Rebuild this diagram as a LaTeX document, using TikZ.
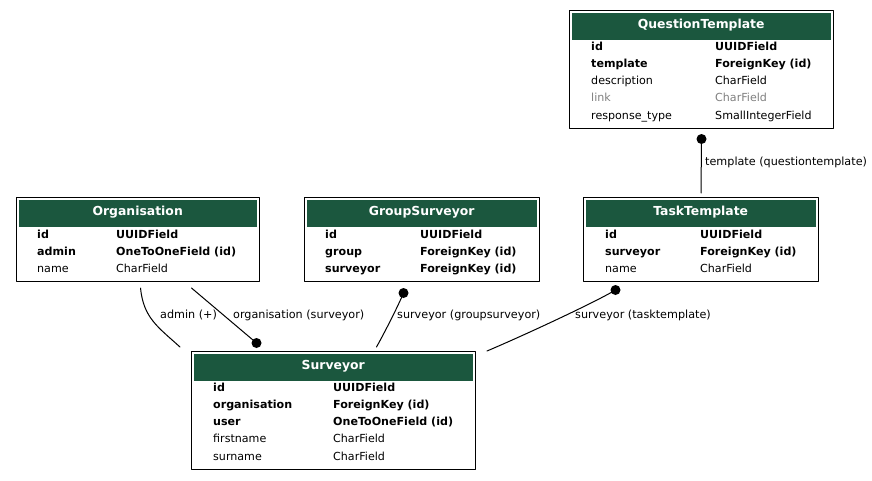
\documentclass[tikz,border=0pt]{standalone}
\usepackage{fontspec}
\setmainfont{DejaVu Sans}
\usetikzlibrary{calc}
\definecolor{headgreen}{RGB}{27,87,62}
\definecolor{dimgrey}{RGB}{128,128,128}
\tikzset{
  modelbox/.style ={draw, line width=1pt, anchor=north west, inner sep=0pt},
  modelhead/.style ={fill=headgreen, anchor=north west, inner sep=0pt, text=white,
    font=\fontsize{12.4pt}{14pt}\selectfont\bfseries, minimum height=27pt,
    text height=9pt, text depth=4.5pt},
  keyfield/.style ={anchor=base west, inner sep=0pt, font=\fontsize{11.1pt}{13pt}\selectfont\bfseries},
  plainfield/.style ={anchor=base west, inner sep=0pt, font=\fontsize{11.1pt}{13pt}\selectfont},
  greyfield/.style ={plainfield, text=dimgrey},
  rel/.style ={draw, line width=1pt},
  fkdot/.style ={circle, fill=black, inner sep=0pt, minimum size=10pt},
  edgelabel/.style ={anchor=base west, inner sep=0pt, font=\fontsize{11.2pt}{13pt}\selectfont}
}
\begin{document}
\begin{tikzpicture}[line cap=round,line join=round,x=1pt,y=-1pt]
\useasboundingbox (0,0) rectangle (872,480);

% QuestionTemplate
\node[modelbox, minimum width=264pt, minimum height=118pt] (qt) at (569,10) {};
\node[modelhead, minimum width=259pt] (qt-head) at (571.5,12.5) {QuestionTemplate};
\node[keyfield] (qt-id) at (591,50) {id};
\node[keyfield] (qt-id-t) at (715,50) {UUIDField};
\node[keyfield] (qt-template) at (591,67.3) {template};
\node[keyfield] (qt-template-t) at (715,67.3) {ForeignKey (id)};
\node[plainfield] (qt-desc) at (591,84.6) {description};
\node[plainfield] (qt-desc-t) at (715,84.6) {CharField};
\node[greyfield] (qt-link) at (591,101.9) {link};
\node[greyfield] (qt-link-t) at (715,101.9) {CharField};
\node[plainfield] (qt-resp) at (591,119.2) {response\_type};
\node[plainfield] (qt-resp-t) at (715,119.2) {SmallIntegerField};

% Organisation
\node[modelbox, minimum width=243pt, minimum height=84pt] (org) at (16,197) {};
\node[modelhead, minimum width=238pt] (org-head) at (18.5,199.5) {Organisation};
\node[keyfield] (org-id) at (37,238) {id};
\node[keyfield] (org-id-t) at (116,238) {UUIDField};
\node[keyfield] (org-admin) at (37,255.3) {admin};
\node[keyfield] (org-admin-t) at (116,255.3) {OneToOneField (id)};
\node[plainfield] (org-name) at (37,272.6) {name};
\node[plainfield] (org-name-t) at (116,272.6) {CharField};

% GroupSurveyor
\node[modelbox, minimum width=235pt, minimum height=84pt] (gs) at (304,197) {};
\node[modelhead, minimum width=230pt] (gs-head) at (306.5,199.5) {GroupSurveyor};
\node[keyfield] (gs-id) at (325,238) {id};
\node[keyfield] (gs-id-t) at (420,238) {UUIDField};
\node[keyfield] (gs-group) at (325,255.3) {group};
\node[keyfield] (gs-group-t) at (420,255.3) {ForeignKey (id)};
\node[keyfield] (gs-surveyor) at (325,272.6) {surveyor};
\node[keyfield] (gs-surveyor-t) at (420,272.6) {ForeignKey (id)};

% TaskTemplate
\node[modelbox, minimum width=235pt, minimum height=84pt] (tt) at (583,197) {};
\node[modelhead, minimum width=230pt] (tt-head) at (585.5,199.5) {TaskTemplate};
\node[keyfield] (tt-id) at (605,238) {id};
\node[keyfield] (tt-id-t) at (700,238) {UUIDField};
\node[keyfield] (tt-surveyor) at (605,255.3) {surveyor};
\node[keyfield] (tt-surveyor-t) at (700,255.3) {ForeignKey (id)};
\node[plainfield] (tt-name) at (605,272.6) {name};
\node[plainfield] (tt-name-t) at (700,272.6) {CharField};

% Surveyor
\node[modelbox, minimum width=284pt, minimum height=118pt] (sv) at (191,351) {};
\node[modelhead, minimum width=279pt] (sv-head) at (193.5,353.5) {Surveyor};
\node[keyfield] (sv-id) at (213,391) {id};
\node[keyfield] (sv-id-t) at (333,391) {UUIDField};
\node[keyfield] (sv-org) at (213,408.3) {organisation};
\node[keyfield] (sv-org-t) at (333,408.3) {ForeignKey (id)};
\node[keyfield] (sv-user) at (213,425.6) {user};
\node[keyfield] (sv-user-t) at (333,425.6) {OneToOneField (id)};
\node[plainfield] (sv-first) at (213,442.9) {firstname};
\node[plainfield] (sv-first-t) at (333,442.9) {CharField};
\node[plainfield] (sv-sur) at (213,460.2) {surname};
\node[plainfield] (sv-sur-t) at (333,460.2) {CharField};

% relations
\node[fkdot] (qt-dot) at ($(qt.south)+(0,10)$) {};
\draw[rel] (qt-dot.center) -- ($(tt.north)+(0,-4)$);
\node[edgelabel] (lbl-template) at (705,165) {template (questiontemplate)};

\draw[rel] ($(org.south)+(2.5,6)$) .. controls +(3,30) and +(-22,-20) .. ($(sv.north west)+(-11,-4)$);
\node[edgelabel] (lbl-admin) at (160,318) {admin (+)};

\node[fkdot] (sv-dot) at ($(sv.north)+(-77,-8)$) {};
\draw[rel] ($(org.south)+(53.5,6)$) -- (sv-dot.center);
\node[edgelabel] (lbl-org) at (233,318) {organisation (surveyor)};

\node[fkdot] (gs-dot) at ($(gs.south)+(-18.5,11)$) {};
\draw[rel] ($(sv.north)+(43,-4)$) .. controls +(10,-18) and +(-5,12) .. (gs-dot.center);
\node[edgelabel] (lbl-gs) at (397,318) {surveyor (groupsurveyor)};

\node[fkdot] (tt-dot) at ($(tt.south)+(-85.5,8)$) {};
\draw[rel] ($(sv.north east)+(11,0)$) .. controls +(40,-17) and +(-20,12) .. (tt-dot.center);
\node[edgelabel] (lbl-tt) at (575,318) {surveyor (tasktemplate)};
\end{tikzpicture}
\end{document}
